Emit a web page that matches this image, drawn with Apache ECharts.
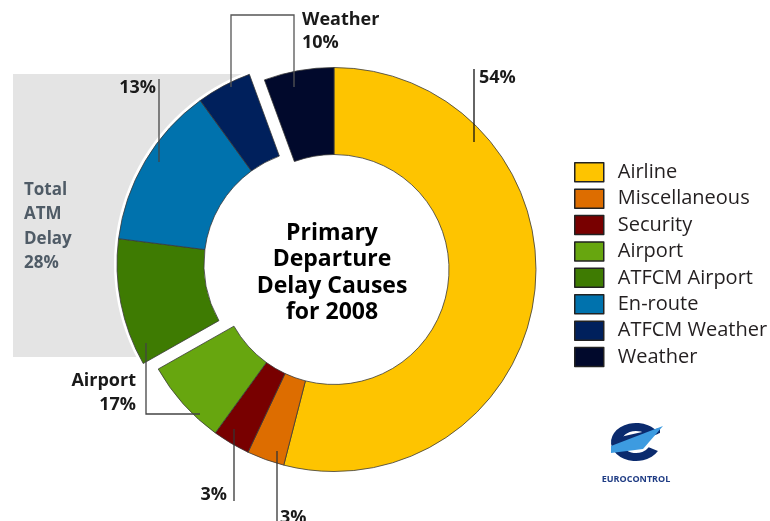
<!DOCTYPE html>
<html>
<head>
<meta charset="utf-8">
<script src="https://cdn.jsdelivr.net/npm/echarts@6/dist/echarts.min.js"></script>
<style>
  html, body { margin: 0; padding: 0; background: #ffffff; }
  #chart { width: 770px; height: 521px; }
</style>
</head>
<body>
<div id="chart"></div>
<script>
// Primary departure delay causes, 2008 (share of delay, %)
const categories = ['Airline', 'Miscellaneous', 'Security', 'Airport', 'ATFCM Airport', 'En-route', 'ATFCM Weather', 'Weather'];
const shares = [54, 3, 3, 6.8, 10.2, 13, 4.4, 5.6];
const sliceColors = ['#fec400', '#dd6d00', '#780000', '#67a60f', '#3e7b02', '#0072ad', '#00205c', '#01092c'];

// Groups summarised by the annotations
const atmGroup = ['ATFCM Airport', 'En-route', 'ATFCM Weather'];
const airportGroup = ['Airport', 'ATFCM Airport'];
const weatherGroup = ['ATFCM Weather', 'Weather'];

// Donut geometry
const CX = 334, CY = 269.5, R_IN = 115, R_OUT = 202, EXPLODE = 16;
const FONT = '"Open Sans", "Noto Sans", sans-serif';

function share(name) { return shares[categories.indexOf(name)]; }
function groupTotal(names) { return names.reduce((s, n) => s + share(n), 0); }
function pct(v) { return Math.round(v) + '%'; }

// The ATM group is pulled out along the bisector of its arc
const total = shares.reduce((a, b) => a + b, 0);
const firstAtm = categories.indexOf(atmGroup[0]);
const before = shares.slice(0, firstAtm).reduce((a, b) => a + b, 0);
const midAngle = (before + groupTotal(atmGroup) / 2) / total * 2 * Math.PI;
const OX = EXPLODE * Math.sin(midAngle);
const OY = -EXPLODE * Math.cos(midAngle);

function sliceData(isShown) {
  return categories.map((name, i) => ({
    name: name,
    value: shares[i],
    itemStyle: isShown(name)
      ? { color: sliceColors[i], borderColor: '#3a3a3a', borderWidth: 0.8 }
      : { color: 'rgba(0,0,0,0)', borderWidth: 0 }
  }));
}

function donut(cx, cy, isShown) {
  return {
    type: 'pie',
    center: [cx, cy],
    radius: [R_IN, R_OUT],
    startAngle: 90,
    clockwise: true,
    silent: true,
    animation: false,
    label: { show: false },
    labelLine: { show: false },
    emphasis: { disabled: true, scale: false },
    data: sliceData(isShown)
  };
}

const labelText = (x, y, text, align, extra) => ({
  type: 'text', x: x, y: y, z: 10,
  style: Object.assign({
    text: text, align: align, verticalAlign: 'middle',
    fontFamily: FONT, fontSize: 18, fontWeight: 'bold', fill: '#1a1a1a'
  }, extra || {})
});

const line = (points, color) => ({
  type: 'polyline', z: 10,
  shape: { points: points },
  style: { stroke: color || '#444', lineWidth: 1.3, fill: null }
});

const chart = echarts.init(document.getElementById('chart'), null, { renderer: 'canvas' });

chart.setOption({
  backgroundColor: '#ffffff',
  animation: false,
  legend: {
    orient: 'vertical',
    left: 569,
    top: 157,
    itemWidth: 29,
    itemHeight: 19,
    itemGap: 5.9,
    icon: 'rect',
    selectedMode: false,
    data: categories.map((n, i) => ({
      name: n,
      itemStyle: { color: sliceColors[i], borderColor: '#222', borderWidth: 1.5 }
    })),
    textStyle: { fontFamily: FONT, fontSize: 20, color: '#231f20', lineHeight: 20, padding: [0, 0, 0, 9] }
  },
  series: [
    donut(CX, CY, n => !atmGroup.includes(n)),
    donut(CX + OX, CY + OY, n => atmGroup.includes(n))
  ],
  graphic: [
    // shaded panel behind the ATM group
    { type: 'rect', z: 0, shape: { x: 13, y: 74, width: 240, height: 283 }, style: { fill: '#e4e4e4' } },
    { type: 'circle', z: 1, shape: { cx: CX + OX, cy: CY + OY, r: R_OUT + 3 }, style: { fill: '#ffffff' } },

    // centre title
    {
      type: 'text', x: 332, y: 273, z: 10,
      style: {
        text: 'Primary\nDeparture\nDelay Causes\nfor 2008',
        align: 'center', verticalAlign: 'middle',
        fontFamily: FONT, fontSize: 23, fontWeight: 'bold', lineHeight: 26.5, fill: '#000'
      }
    },

    // ATM total
    {
      type: 'text', x: 24, y: 178, z: 10,
      style: {
        text: 'Total\nATM\nDelay\n' + pct(groupTotal(atmGroup)),
        align: 'left', verticalAlign: 'top',
        fontFamily: FONT, fontSize: 17, fontWeight: 'bold', lineHeight: 24.3, fill: '#4f5b66'
      }
    },

    // leader lines
    line([[474, 69], [474, 142]], '#111'),
    line([[231, 87], [231, 15], [294, 15], [294, 87]], '#555'),
    line([[159, 79], [159, 162]], '#444'),
    line([[146, 343], [146, 414], [200, 414]], '#444'),
    line([[234, 429], [234, 501]], '#333'),
    line([[277, 451], [277, 522]], '#333'),

    // value labels
    labelText(479, 78, pct(share('Airline')), 'left'),
    labelText(302, 8, 'Weather\n' + pct(groupTotal(weatherGroup)), 'left', { verticalAlign: 'top', lineHeight: 23.5 }),
    labelText(156, 88, pct(share('En-route')), 'right'),
    labelText(136, 369, 'Airport\n' + pct(groupTotal(airportGroup)), 'right', { verticalAlign: 'top', lineHeight: 24 }),
    labelText(227, 495, pct(share('Security')), 'right'),
    labelText(280, 518, pct(share('Miscellaneous')), 'left'),

    // organisation mark
    {
      type: 'group', x: 636, y: 442, z: 10,
      children: [
        {
          type: 'sector', scaleY: 0.76,
          shape: { cx: 0, cy: 0, r: 25, r0: 14.5, startAngle: 0.5, endAngle: 2 * Math.PI - 0.45, clockwise: true },
          style: { fill: '#0b2b6e' }
        },
        { type: 'polygon', shape: { points: [[-16, -5], [24, -14], [24, -9], [-16, 2]] }, style: { fill: '#0b2b6e' } },
        { type: 'polygon', shape: { points: [[-25, 4], [27, -16], [7, 7], [-25, 11]] }, style: { fill: '#3d9be0' } }
      ]
    },
    {
      type: 'text', x: 636, y: 479, z: 10,
      style: {
        text: 'EUROCONTROL', align: 'center', verticalAlign: 'middle',
        fontFamily: FONT, fontSize: 9, fontWeight: 'bold', fill: '#1f3c84'
      }
    }
  ]
});
</script>
</body>
</html>
